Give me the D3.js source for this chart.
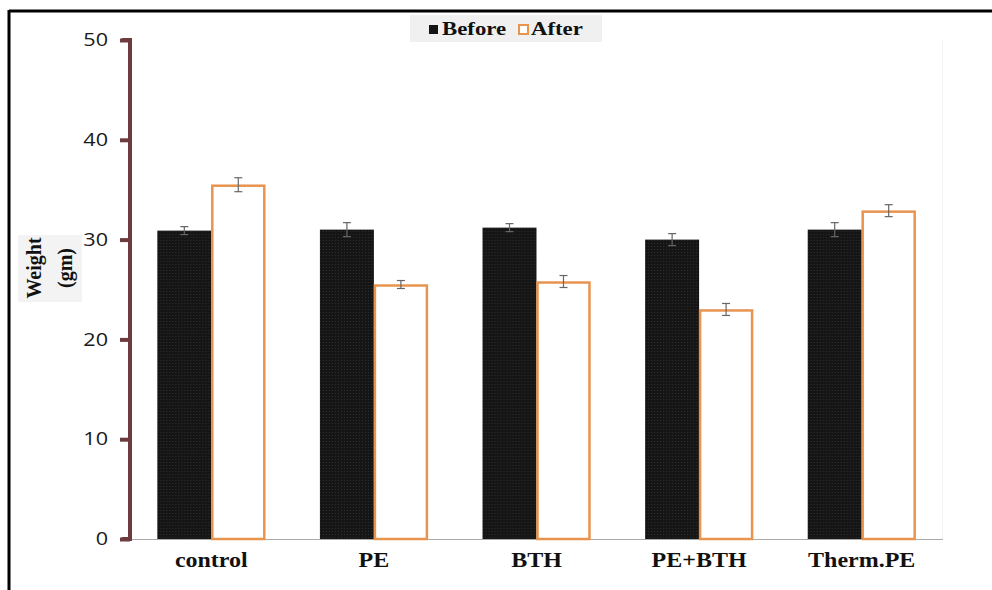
<!DOCTYPE html>
<html><head><meta charset="utf-8">
<script src="https://cdn.jsdelivr.net/npm/d3@7/dist/d3.min.js"></script>
<style>body{margin:0;background:#fff}svg{display:block}</style>
</head><body>
<svg id="c" width="992" height="590"></svg>
<script>
const categories = ["control", "PE", "BTH", "PE+BTH", "Therm.PE"];
const seriesNames = ["Before", "After"];
const before = [30.9, 31.0, 31.2, 30.0, 31.0];
const after = [35.5, 25.5, 25.8, 23.0, 32.9];
const beforeErr = [0.4, 0.7, 0.4, 0.6, 0.7];
const afterErr = [0.7, 0.4, 0.6, 0.6, 0.6];
const yTicks = [0, 10, 20, 30, 40, 50];

(function () {
const svg = d3.select("#c");
const pLeft = 130, pRight = 943, pTop = 40, pBottom = 539;
const SX = 1.2;
const serif = "'Liberation Serif', 'Times New Roman', serif";

const defs = svg.append("defs");
const pat = defs.append("pattern").attr("id", "dots").attr("patternUnits", "userSpaceOnUse").attr("width", 3).attr("height", 3);
pat.append("rect").attr("width", 3).attr("height", 3).attr("fill", "#151515");
pat.append("rect").attr("width", 1).attr("height", 1).attr("fill", "#2e2e2e");

// frame
svg.append("line").attr("x1", 9).attr("x2", 992).attr("y1", 11).attr("y2", 11).attr("stroke", "#000").attr("stroke-width", 3);
svg.append("line").attr("x1", 9).attr("x2", 9).attr("y1", 10).attr("y2", 590).attr("stroke", "#000").attr("stroke-width", 3);

const x = d3.scaleBand().domain(categories).range([pLeft, pRight]).paddingInner(0.336).paddingOuter(0.168);
const xs = d3.scaleBand().domain(seriesNames).range([0, x.bandwidth()]);
const y = d3.scaleLinear().domain([0, 50]).range([pBottom, pTop]);

// faint right line
svg.append("line").attr("x1", pRight - 0.5).attr("x2", pRight - 0.5).attr("y1", pTop).attr("y2", pBottom).attr("stroke", "#f4f4f4");

// x axis baseline
svg.append("line").attr("x1", pLeft).attr("x2", pRight).attr("y1", pBottom + 0.5).attr("y2", pBottom + 0.5).attr("stroke", "#aaa").attr("stroke-width", 1);

const data = categories.map((c, i) => ({c, vals: [
  {s: "Before", v: before[i], e: beforeErr[i]},
  {s: "After", v: after[i], e: afterErr[i]}
]}));

const g = svg.append("g").selectAll("g").data(data).join("g")
  .attr("transform", d => `translate(${x(d.c)},0)`);

g.selectAll("rect").data(d => d.vals).join("rect")
  .attr("x", d => xs(d.s) + (d.s === "After" ? 1 : 0))
  .attr("y", d => y(d.v) + (d.s === "After" ? 1 : 0))
  .attr("width", d => xs.bandwidth() - (d.s === "After" ? 2 : 0))
  .attr("height", d => pBottom - y(d.v) - (d.s === "After" ? 1 : 0))
  .attr("fill", d => d.s === "Before" ? "url(#dots)" : "#fff")
  .attr("stroke", d => d.s === "Before" ? "none" : "#e8944f")
  .attr("stroke-width", 2.5);

// error bars
const eb = g.selectAll("g.eb").data(d => d.vals).join("g").attr("class", "eb")
  .attr("stroke", "#666").attr("stroke-width", 1.2);
const cx = d => xs(d.s) + xs.bandwidth() / 2;
eb.append("line").attr("x1", cx).attr("x2", cx)
  .attr("y1", d => y(d.v + d.e)).attr("y2", d => y(d.v - d.e));
eb.append("line").attr("x1", d => cx(d) - 4).attr("x2", d => cx(d) + 4)
  .attr("y1", d => y(d.v + d.e)).attr("y2", d => y(d.v + d.e));
eb.append("line").attr("x1", d => cx(d) - 4).attr("x2", d => cx(d) + 4)
  .attr("y1", d => y(d.v - d.e)).attr("y2", d => y(d.v - d.e));

// y axis
const yAxis = svg.append("g").attr("transform", `translate(${pLeft},0)`)
  .call(d3.axisLeft(y).tickValues(yTicks).tickSize(10).tickPadding(0));
yAxis.select(".domain").attr("stroke", "#6e3b3e").attr("stroke-width", 4).attr("d", `M-8,${pTop}H0V${pBottom}H-8`);
yAxis.selectAll(".tick line").attr("stroke", "#6e3b3e").attr("stroke-width", 4);
yAxis.selectAll(".tick text").attr("x", null)
  .attr("transform", `translate(-22,0) scale(${SX},1)`)
  .attr("font-family", "'Open Sans', 'DejaVu Sans', sans-serif").attr("font-size", 18).attr("fill", "#1a1a1a");

// x labels
const xAxis = svg.append("g").attr("transform", `translate(0,${pBottom})`)
  .call(d3.axisBottom(x).tickSize(0).tickPadding(14));
xAxis.select(".domain").remove();
xAxis.selectAll(".tick text").attr("transform", `scale(${SX},1)`)
  .attr("font-family", serif)
  .attr("font-weight", "bold").attr("font-size", 20).attr("fill", "#111");

// y title
svg.append("rect").attr("x", 18).attr("y", 235).attr("width", 64).attr("height", 67).attr("fill", "#f3f3f3");
const yt = svg.append("text").attr("transform", "translate(0,268) rotate(-90)")
  .attr("text-anchor", "middle").attr("font-family", serif)
  .attr("font-weight", "bold").attr("font-size", 20).attr("fill", "#111");
yt.append("tspan").attr("x", 0).attr("y", 41).text("Weight");
yt.append("tspan").attr("x", 0).attr("y", 72).text("(gm)");

// legend
const lg = svg.append("g").attr("transform", "translate(410,15)");
lg.append("rect").attr("width", 192).attr("height", 27).attr("fill", "#f0f0f0");
lg.append("rect").attr("x", 19).attr("y", 10).attr("width", 9).attr("height", 9).attr("fill", "#141414");
lg.append("text").attr("transform", `translate(32,20) scale(${SX},1)`).text(seriesNames[0]);
lg.append("rect").attr("x", 109).attr("y", 10).attr("width", 9).attr("height", 9).attr("fill", "#fff").attr("stroke", "#e8944f").attr("stroke-width", 2);
lg.append("text").attr("transform", `translate(121,20) scale(${SX},1)`).text(seriesNames[1]);
lg.selectAll("text").attr("font-family", serif).attr("font-weight", "bold").attr("font-size", 19).attr("fill", "#111");
})();
</script>
</body></html>
